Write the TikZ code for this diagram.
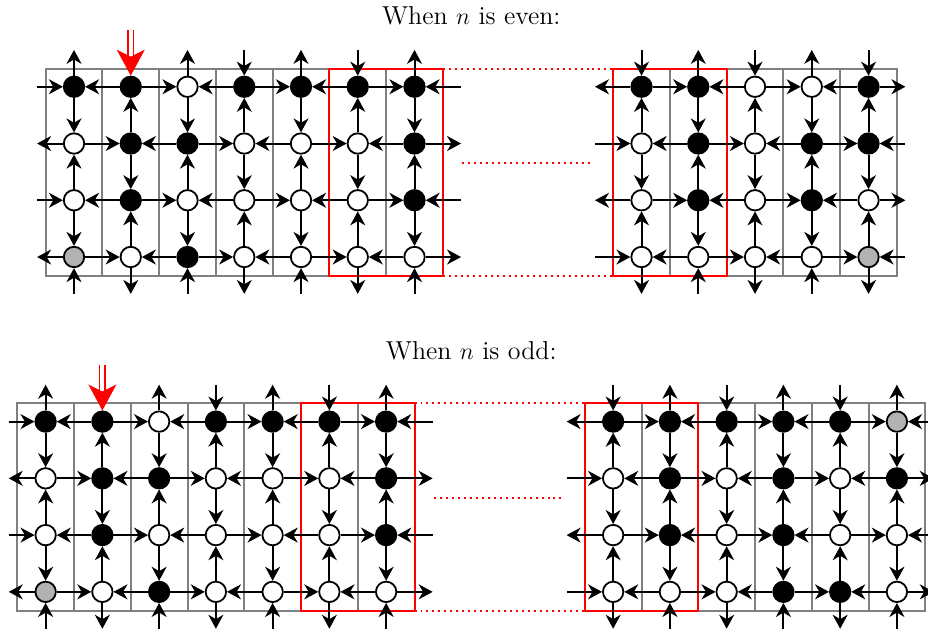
\documentclass[tikz,border=0pt]{standalone}
\usetikzlibrary{arrows.meta}

\begin{document}
\begin{tikzpicture}[
  v/.style={circle,draw,line width=0.9pt,inner sep=0pt,minimum size=0.36cm},
  vb/.style={v,fill=black},
  vw/.style={v,fill=white},
  vg/.style={v,fill=gray!60},
  arr/.style={line width=1pt,-{Stealth[length=7pt,width=7.5pt,inset=2.2pt]}},
  redin/.style={red,double=white,double distance=2pt,line width=0.8pt,-{Stealth[length=13pt,width=14pt,inset=3.5pt]}},
  cell/.style={draw=gray,line width=1pt},
  redbox/.style={draw=red,line width=1pt},
  reddots/.style={red,dotted,line width=1pt}]
\useasboundingbox (-0.304,-6.626) rectangle (16.048,4.529);

\node[anchor=base,font=\fontsize{13}{15}\selectfont] (te) at (8,4.09) {When $n$ is even:};
\node[anchor=base,font=\fontsize{13}{15}\selectfont] (to) at (8,-1.81) {When $n$ is odd:};

% cells, red boxes and dots
\foreach \dx/\dy/\last in {0/0/15,-0.5/-5.9/16} {
  \foreach \p in {1,...,7}
    \draw[cell] (\p-0.5+\dx,-0.33+\dy) rectangle ++(1,3.65);
  \foreach \p in {11,...,\last}
    \draw[cell] (\p-0.5+\dx,-0.33+\dy) rectangle ++(1,3.65);
  \draw[redbox] (5.5+\dx,-0.33+\dy) rectangle ++(2,3.65);
  \draw[redbox] (10.5+\dx,-0.33+\dy) rectangle ++(2,3.65);
  \draw[reddots] (7.5+\dx,3.32+\dy) -- ++(3,0);
  \draw[reddots] (7.5+\dx,-0.33+\dy) -- ++(3,0);
  \draw[reddots] (7.84+\dx,1.66+\dy) -- (10.13+\dx,1.66+\dy);
}

% vertices, left blocks (same for n even and n odd)
\foreach \d/\dx/\dy in {e/0/0,o/-0.5/-5.9}
  \foreach \r/\cols in {1/{vb,vb,vw,vb,vb,vb,vb},2/{vw,vb,vb,vw,vw,vw,vb},
                        3/{vw,vb,vw,vw,vw,vw,vb},4/{vg,vw,vb,vw,vw,vw,vw}}
    \foreach \s [count=\p] in \cols
      \node[\s] (\d\r-\p) at (\p+\dx,4-\r+\dy) {};
% right block, n even
\foreach \r/\cols in {1/{vb,vb,vw,vw,vb},2/{vw,vb,vw,vb,vb},
                      3/{vw,vb,vw,vb,vw},4/{vw,vw,vw,vw,vg}}
  \foreach \s [count=\p from 11] in \cols
    \node[\s] (e\r-\p) at (\p,4-\r) {};
% right block, n odd
\foreach \r/\cols in {1/{vb,vb,vb,vb,vb,vg},2/{vw,vb,vw,vb,vw,vb},
                      3/{vw,vb,vw,vb,vw,vw},4/{vw,vw,vw,vb,vb,vw}}
  \foreach \s [count=\p from 11] in \cols
    \node[\s] (o\r-\p) at (\p-0.5,-1.9-\r) {};

% arrows, block by block
\foreach \d/\a/\b/\o/\ll/\lr in {e/1/6/0/0.65/0.82,e/11/14/1/0.82/0.65,
                                 o/1/6/0/0.65/0.82,o/11/15/1/0.82/0.65} {
  \pgfmathtruncatemacro\c{\b+1}
  \foreach \r in {1,...,4} {
    \foreach \p in {\a,...,\b} {
      \pgfmathtruncatemacro\hm{mod(\p+\r+\o,2)}
      \pgfmathtruncatemacro\src{\p+1-\hm}
      \pgfmathtruncatemacro\tgt{\p+\hm}
      \draw[arr] (\d\r-\src) -- (\d\r-\tgt);
    }
    \path (\d\r-\a.center) ++(-\ll,0) coordinate (\d\r-\a-w)
          (\d\r-\c.center) ++(\lr,0) coordinate (\d\r-\c-e);
    \pgfmathtruncatemacro\hm{mod(\a+\r+\o,2)}
    \ifnum\hm=0 \draw[arr] (\d\r-\a-w) -- (\d\r-\a); \else \draw[arr] (\d\r-\a) -- (\d\r-\a-w); \fi
    \pgfmathtruncatemacro\hm{mod(\c+\r+\o,2)}
    \ifnum\hm=0 \draw[arr] (\d\r-\c-e) -- (\d\r-\c); \else \draw[arr] (\d\r-\c) -- (\d\r-\c-e); \fi
  }
  \foreach \p in {\a,...,\c} {
    \foreach \i in {1,2,3} {
      \pgfmathtruncatemacro\hm{mod(\i+\p+\o,2)}
      \pgfmathtruncatemacro\src{\i+\hm}
      \pgfmathtruncatemacro\tgt{\i+1-\hm}
      \draw[arr] (\d\src-\p) -- (\d\tgt-\p);
    }
    \path (\d1-\p.center) ++(0,0.65) coordinate (\d1-\p-n)
          (\d4-\p.center) ++(0,-0.65) coordinate (\d4-\p-s);
    \pgfmathtruncatemacro\hm{mod(\p+\o,2)}
    \ifnum\hm=0
      \ifnum\p=2 \else \draw[arr] (\d1-\p-n) -- (\d1-\p); \fi
      \draw[arr] (\d4-\p) -- (\d4-\p-s);
    \else
      \draw[arr] (\d1-\p) -- (\d1-\p-n);
      \draw[arr] (\d4-\p-s) -- (\d4-\p);
    \fi
  }
}

% the marked column
\foreach \d in {e,o} {
  \path (\d1-2.center) ++(0,1) coordinate (\d1-2-n);
  \draw[redin] (\d1-2-n) -- (\d1-2);
}
\end{tikzpicture}
\end{document}
